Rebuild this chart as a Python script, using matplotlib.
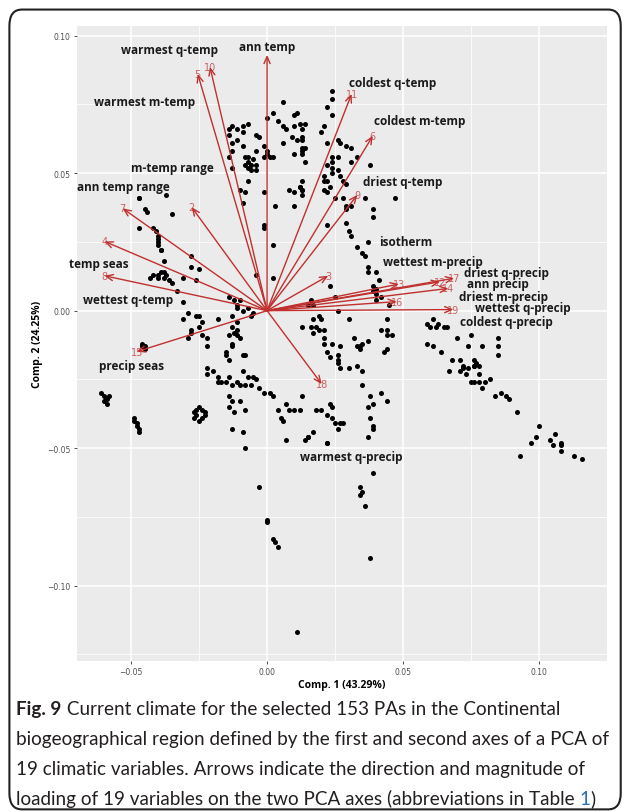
import matplotlib.pyplot as plt
from matplotlib.patches import FancyBboxPatch
import numpy as np

# site scores (Comp. 1, Comp. 2)
pc1 = [0.006, 0.000, 0.002, 0.004, 0.006, 0.007, 0.010, 0.011, 0.010, 0.012, 0.006, 0.009, 0.011, 0.013,
       0.010, 0.013, 0.014, 0.014, -0.014, -0.013, -0.011, -0.009, -0.007, -0.009, -0.014, -0.013, -0.011,
       -0.009, -0.013, -0.014, -0.008, -0.007, -0.007, -0.006, -0.008, -0.007, -0.005, -0.004, -0.004,
       -0.006, -0.004, -0.004, -0.003, -0.001, 0.000, -0.001, 0.000, 0.001, 0.002, -0.013, -0.007, -0.001,
       -0.010, -0.008, 0.008, 0.010, 0.012, 0.013, 0.013, 0.003, 0.010, -0.009, -0.001, -0.001, 0.002,
       -0.047, -0.047, -0.037, -0.045, -0.044, -0.035, -0.047, -0.042, -0.041, -0.040, -0.040,
       0.024, 0.024, 0.022, 0.024, 0.014, 0.013, 0.021, 0.020, 0.013, 0.013, 0.013, 0.022, 0.026, 0.027,
       0.029, 0.031, 0.033, 0.031, 0.038, 0.024, 0.026, 0.024, 0.022, 0.024, 0.026, 0.021, 0.024, 0.027,
       0.022, 0.021, 0.023, 0.021, 0.022, 0.028, 0.029, 0.012, 0.013, 0.013, 0.025, 0.028, 0.029, 0.029,
       0.031, 0.036, 0.039, 0.039, 0.047, 0.022, 0.029, 0.030, 0.031, 0.033, 0.037,
       0.035, 0.036, 0.037, 0.037, 0.040, 0.041, 0.039, 0.040, 0.039, 0.042, 0.040, 0.040, 0.023, 0.025,
       0.016, 0.017, 0.015, 0.026, 0.045, 0.030, 0.044, 0.017, 0.019, 0.020, 0.018, 0.016, 0.013, 0.019,
       0.021, 0.017, 0.021, 0.021, 0.024, 0.027, 0.022, 0.023, 0.026, 0.026, 0.026, 0.027, 0.030, 0.033,
       0.035, 0.035, 0.032, 0.034, 0.035, 0.037, 0.033, 0.034, 0.042, 0.044, 0.046, 0.044, 0.044, 0.043,
       0.042, 0.044, 0.038, 0.039, 0.037, 0.038, 0.039, 0.039, 0.037, 0.013, 0.012, 0.015, 0.018, 0.020,
       0.022, 0.023, 0.024, 0.024, 0.025, 0.026, 0.027, 0.028, 0.022,
       0.059, 0.060, 0.061, 0.062, 0.063, 0.065, 0.066, 0.059, 0.061, 0.064, 0.067, 0.070, 0.075, 0.074,
       0.079, 0.085, 0.085, 0.085, 0.068, 0.071, 0.072, 0.072, 0.071, 0.073, 0.074, 0.076, 0.077, 0.076,
       0.076, 0.078, 0.078, 0.075, 0.076, 0.078, 0.080, 0.082, 0.079, 0.084, 0.086, 0.088, 0.089, 0.092,
       0.100, 0.099, 0.097, 0.106, 0.104, 0.108, 0.108, 0.014, 0.015, 0.022, 0.039, 0.034, 0.035, 0.034,
       0.036, 0.038, 0.093, 0.105, 0.108, 0.113, 0.116,
       -0.040, -0.040, -0.039, -0.039, -0.038, -0.028, -0.028, -0.025, -0.026, -0.043, -0.042, -0.040,
       -0.039, -0.038, -0.037, -0.040, -0.038, -0.036, -0.035, -0.033, -0.031, -0.031, 0.002, -0.004,
       -0.014, -0.012, -0.011, -0.010, -0.011, -0.009, -0.013, -0.011, -0.013, -0.011, -0.012, -0.014,
       -0.011, -0.010, -0.006, -0.005, -0.007, -0.031, -0.029, -0.026, -0.025, -0.024, -0.025, -0.028,
       -0.028, -0.029, -0.024, -0.022, -0.022, -0.018, -0.013, -0.013, -0.015, -0.015, -0.014, -0.009,
       -0.008, -0.046, -0.045, -0.045, -0.046, -0.022, -0.022, -0.020, -0.018, -0.018, -0.017, -0.015,
       -0.014, -0.013, -0.011, -0.009, -0.007, -0.005, -0.004, -0.010, -0.008, -0.006, -0.014, -0.013,
       -0.014, -0.010, -0.012, -0.013, -0.009, -0.008, -0.003, -0.001, 0.001, 0.002, 0.007, 0.008, 0.010,
       0.004, 0.005, 0.006, 0.007, 0.017,
       -0.061, -0.060, -0.059, -0.060, -0.058, -0.059, -0.049, -0.049, -0.048, -0.048, -0.047, -0.047,
       -0.027, -0.026, -0.025, -0.024, -0.023, -0.026, -0.024, -0.025, -0.023, -0.027,
       -0.008, -0.003, 0.000, 0.000, 0.002, 0.003, 0.004, 0.011]
pc2 = [0.076, 0.070, 0.072, 0.069, 0.067, 0.066, 0.071, 0.072, 0.067, 0.068, 0.061, 0.063, 0.062, 0.063,
       0.057, 0.058, 0.059, 0.054, 0.066, 0.067, 0.066, 0.067, 0.068, 0.065, 0.064, 0.061, 0.062,
       0.060, 0.058, 0.056, 0.056, 0.056, 0.054, 0.053, 0.053, 0.052, 0.055, 0.058, 0.053,
       0.051, 0.051, 0.064, 0.063, 0.060, 0.058, 0.056, 0.057, 0.056, 0.056, 0.052, 0.047, 0.043,
       0.044, 0.043, 0.044, 0.043, 0.045, 0.044, 0.047, 0.038, 0.038, 0.039, 0.031, 0.030, 0.024,
       0.041, 0.041, 0.042, 0.037, 0.036, 0.035, 0.030, 0.030, 0.029, 0.026, 0.024,
       0.080, 0.077, 0.074, 0.071, 0.068, 0.066, 0.067, 0.065, 0.062, 0.059, 0.057, 0.061, 0.062, 0.061,
       0.060, 0.059, 0.056, 0.054, 0.053, 0.056, 0.056, 0.054, 0.053, 0.052, 0.051, 0.049, 0.050, 0.049,
       0.047, 0.047, 0.045, 0.044, 0.043, 0.047, 0.046, 0.045, 0.044, 0.042, 0.041, 0.041, 0.038, 0.037,
       0.038, 0.041, 0.037, 0.034, 0.041, 0.031, 0.032, 0.029, 0.027, 0.023, 0.025,
       0.021, 0.020, 0.016, 0.014, 0.014, 0.011, 0.009, 0.008, 0.007, 0.005, 0.004, 0.006, 0.009, 0.005,
       0.004, 0.002, 0.002, 0.000, 0.002, -0.003, -0.003, -0.003, -0.002, -0.003, -0.006, -0.006, -0.006, -0.007,
       -0.007, -0.008, -0.010, -0.012, -0.012, -0.013, -0.015, -0.017, -0.016, -0.018, -0.019, -0.021, -0.021, -0.020,
       -0.022, -0.027, -0.010, -0.013, -0.012, -0.011, -0.013, -0.014, -0.007, -0.007, -0.009, -0.009, -0.014, -0.015,
       -0.030, -0.033, -0.031, -0.034, -0.035, -0.039, -0.042, -0.043, -0.046, -0.031, -0.036, -0.046, -0.036, -0.036,
       -0.038, -0.034, -0.035, -0.039, -0.041, -0.043, -0.041, -0.041, -0.048,
       -0.005, -0.006, -0.003, -0.006, -0.005, -0.006, -0.006, -0.012, -0.013, -0.015, -0.022, -0.010, -0.009, -0.013,
       -0.013, -0.010, -0.013, -0.016, -0.018, -0.018, -0.020, -0.021, -0.022, -0.023, -0.021, -0.018, -0.019, -0.020,
       -0.020, -0.020, -0.023, -0.026, -0.026, -0.026, -0.026, -0.025, -0.028, -0.031, -0.030, -0.031, -0.032, -0.037,
       -0.042, -0.046, -0.048, -0.045, -0.047, -0.048, -0.049, -0.047, -0.046, -0.048, -0.059, -0.064, -0.066, -0.067,
       -0.071, -0.090, -0.053, -0.049, -0.051, -0.053, -0.054,
       0.027, 0.025, 0.022, 0.022, 0.018, 0.020, 0.016, 0.015, 0.011, 0.012, 0.013, 0.013,
       0.014, 0.014, 0.013, 0.012, 0.012, 0.011, 0.010, 0.007, 0.012, 0.003, 0.012, 0.013,
       0.005, 0.004, 0.002, 0.004, 0.001, 0.000, -0.002, -0.004, -0.006, -0.007, -0.008, -0.009,
       -0.009, -0.010, -0.002, -0.001, 0.001, -0.003, -0.001, -0.002, -0.002, -0.004, -0.006, -0.007,
       -0.008, -0.010, -0.009, -0.010, -0.013, -0.003, -0.012, -0.013, -0.015, -0.016, -0.018, -0.016,
       -0.016, -0.013, -0.013, -0.014, -0.012, -0.021, -0.023, -0.022, -0.024, -0.026, -0.026, -0.026,
       -0.024, -0.027, -0.026, -0.022, -0.024, -0.024, -0.025, -0.027, -0.027, -0.027, -0.031, -0.033,
       -0.035, -0.033, -0.037, -0.043, -0.044, -0.036, -0.028, -0.030, -0.030, -0.031, -0.034, -0.036, -0.036,
       -0.036, -0.039, -0.040, -0.047, -0.044,
       -0.030, -0.031, -0.032, -0.033, -0.031, -0.034, -0.039, -0.040, -0.041, -0.042, -0.043, -0.044,
       -0.037, -0.036, -0.035, -0.036, -0.037, -0.038, -0.039, -0.040, -0.038, -0.039,
       -0.050, -0.064, -0.076, -0.077, -0.083, -0.084, -0.086, -0.117]

# variable loadings (arrow tips); the ann temp tip carries no visible number
var_num = ['', '5', '10', '7', '2', '4', '8', '15', '11', '6', '9', '3', '13', '17', '12', '14', '16', '19', '18']
load1 = [0.000, -0.0255, -0.0210, -0.0531, -0.0277, -0.0598, -0.0598, -0.0479, 0.0311, 0.0389, 0.0332,
         0.0225, 0.0485, 0.0688, 0.0636, 0.0667, 0.0477, 0.0685, 0.0201]
load2 = [0.0930, 0.0861, 0.0886, 0.0372, 0.0376, 0.0252, 0.0127, -0.0149, 0.0788, 0.0636, 0.0421,
         0.0127, 0.0097, 0.0118, 0.0105, 0.0081, 0.0033, 0.0004, -0.0267]

# variable names
var_names = ['ann temp', 'warmest q-temp', 'warmest m-temp', 'm-temp range', 'ann temp range', 'temp seas',
             'wettest q-temp', 'precip seas', 'coldest q-temp', 'coldest m-temp', 'driest q-temp', 'isotherm',
             'wettest m-precip', 'driest q-precip', 'ann precip', 'driest m-precip', 'wettest q-precip',
             'coldest q-precip', 'warmest q-precip']
name_x = [0.000, -0.036, -0.045, -0.035, -0.053, -0.062, -0.051, -0.050, 0.046, 0.056, 0.050, 0.051,
          0.061, 0.088, 0.085, 0.087, 0.094, 0.088, 0.031]
name_y = [0.096, 0.095, 0.076, 0.052, 0.045, 0.017, 0.004, -0.020, 0.083, 0.069, 0.047, 0.025,
          0.018, 0.014, 0.010, 0.005, 0.001, -0.004, -0.053]

x_ticks = [-0.05, 0.00, 0.05, 0.10]
y_ticks = [-0.10, -0.05, 0.00, 0.05, 0.10]

red = '#C0302F'

fig = plt.figure(figsize=(6.27, 8.12), dpi=100)
fig.patches.append(FancyBboxPatch((0.015, 0.002), 0.975, 0.985, boxstyle='round,pad=0,rounding_size=0.02',
                                  transform=fig.transFigure, fill=False, edgecolor='#222222', linewidth=1.5))

ax = fig.add_axes([0.1228, 0.1847, 0.8448, 0.7820])
ax.set_facecolor('#EBEBEB')
for s in ax.spines.values():
    s.set_visible(False)
ax.set_xlim(-0.0699, 0.1249)
ax.set_ylim(-0.1274, 0.1035)
ax.set_xticks(x_ticks)
ax.set_yticks(y_ticks)
ax.set_xticklabels(['\u22120.05', '0.00', '0.05', '0.10'])
ax.set_yticklabels(['\u22120.10', '\u22120.05', '0.00', '0.05', '0.10'])
ax.set_xticks([-0.025, 0.025, 0.075], minor=True)
ax.set_yticks([-0.125, -0.075, -0.025, 0.025, 0.075], minor=True)
ax.grid(which='major', color='white', linewidth=1.1)
ax.grid(which='minor', color='white', linewidth=0.55)
ax.set_axisbelow(True)
ax.tick_params(which='major', length=2.5, width=0.6, color='#333333', labelsize=5.5, labelcolor='#4D4D4D', pad=2)
ax.tick_params(which='minor', length=0)

ax.scatter(pc1, pc2, s=13, color='black', linewidths=0, zorder=2)

for i in range(len(var_num)):
    ax.annotate('', xy=(load1[i], load2[i]), xytext=(0, 0),
                arrowprops=dict(arrowstyle='->,head_length=0.5,head_width=0.22', color=red, lw=1.0,
                                shrinkA=0, shrinkB=0), zorder=3)
    ax.text(load1[i], load2[i], var_num[i], color=red, fontsize=7, ha='center', va='center',
            alpha=0.75, zorder=3)

for i in range(len(var_names)):
    ax.text(name_x[i], name_y[i], var_names[i], fontsize=8.5, fontweight='bold', family='Open Sans',
            color='#1A1A1A', ha='center', va='center', zorder=4)

ax.set_xlabel('Comp. 1 (43.29%)', fontsize=7.5, fontweight='bold', family='Open Sans', labelpad=2)
ax.set_ylabel('Comp. 2 (24.25%)', fontsize=7.5, fontweight='bold', family='Open Sans', labelpad=3)

# caption
cap_color = '#231F20'
cfs = 13.6
t = fig.text(0.026, 1 - 710 / 812, 'Fig. 9', fontsize=cfs, fontweight='bold', family='Lato', color=cap_color,
             va='center')
ax.annotate(' Current climate for the selected 153 PAs in the Continental', xy=(1, 0), xycoords=t,
            fontsize=cfs, family='Lato', color=cap_color, ha='left', va='bottom', annotation_clip=False)
fig.text(0.026, 1 - 740 / 812, 'biogeographical region defined by the first and second axes of a PCA of',
         fontsize=cfs, family='Lato', color=cap_color, va='center')
fig.text(0.026, 1 - 770 / 812, '19 climatic variables. Arrows indicate the direction and magnitude of',
         fontsize=cfs, family='Lato', color=cap_color, va='center')
t4 = fig.text(0.026, 1 - 799 / 812, 'loading of 19 variables on the two PCA axes (abbreviations in Table ',
              fontsize=cfs, family='Lato', color=cap_color, va='center')
t5 = ax.annotate('1', xy=(1, 0), xycoords=t4, fontsize=cfs, family='Lato', color='#2A6EBB',
                 ha='left', va='bottom', annotation_clip=False)
ax.annotate(')', xy=(1, 0), xycoords=t5, fontsize=cfs, family='Lato', color=cap_color,
            ha='left', va='bottom', annotation_clip=False)

fig.savefig('out.png', dpi=100)
